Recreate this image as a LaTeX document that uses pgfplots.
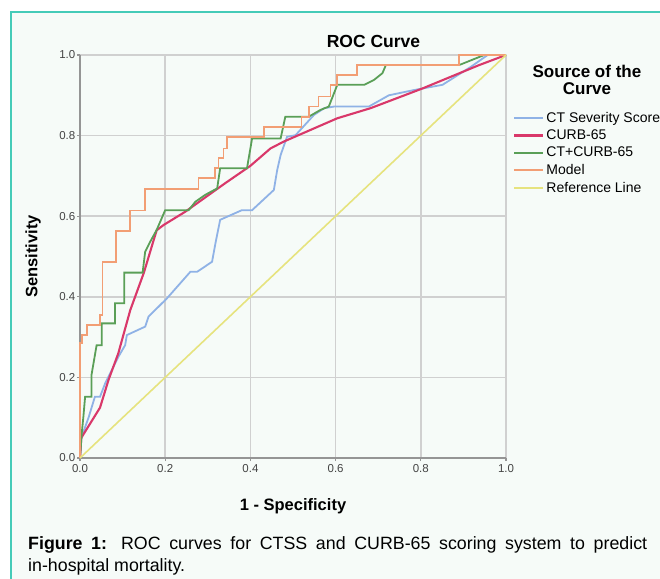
\documentclass[border=0pt]{standalone}
\usepackage{fontspec}
\setmainfont{Liberation Sans}
\usepackage{pgfplots}
\pgfplotsset{compat=1.18}
\definecolor{framecol}{HTML}{45CBB8}
\definecolor{panel}{HTML}{F6FBF8}
\definecolor{ctss}{HTML}{8FB2E6}
\definecolor{curbred}{HTML}{D9386A}
\definecolor{combo}{HTML}{5A9F57}
\definecolor{model}{HTML}{F29E74}
\definecolor{refline}{HTML}{E6E37E}
\definecolor{gridgray}{HTML}{D0D0D0}
\definecolor{axisgray}{HTML}{959595}
\definecolor{tickgray}{HTML}{444444}
\newcommand\tk{\fontsize{11.5}{13}\selectfont}

\begin{document}
\begin{tikzpicture}[x=1pt,y=1pt]
\useasboundingbox (0,0) rectangle (660,578);
\fill[panel] (11,-10) rectangle (670,566);
\draw[framecol, line width=1.3pt] (11,-10) -- (11,566) -- (670,566);

\begin{axis}[
  at={(80pt,120pt)}, anchor=south west,
  width=426pt, height=403pt, scale only axis,
  xmin=0, xmax=1, ymin=0, ymax=1,
  axis x line*=bottom, axis y line*=left,
  axis line style={-, color=axisgray, line width=2pt},
  xtick={0,0.2,0.4,0.6,0.8,1}, ytick={0,0.2,0.4,0.6,0.8,1},
  xticklabels={{\tk 0.0},{\tk 0.2},{\tk 0.4},{\tk 0.6},{\tk 0.8},{\tk 1.0}},
  yticklabels={{\tk 0.0},{\tk 0.2},{\tk 0.4},{\tk 0.6},{\tk 0.8},{\tk 1.0}},
  grid=major, grid style={color=gridgray, line width=1.5pt},
  tick style={color=axisgray, line width=1.2pt},
  major tick length=3pt, tick align=outside,
  tick label style={text=tickgray},
  yticklabel style={inner sep=1.5pt},
  xticklabel style={inner sep=3pt},
  title={ROC Curve},
  title style={at={(axis description cs:0.689,1.0025)}, anchor=base,
    font=\bfseries\fontsize{17.5}{20}\selectfont},
  xlabel={1 - Specificity},
  xlabel style={at={(axis description cs:0.5,-0.1315)}, anchor=base,
    font=\bfseries\fontsize{16.5}{18}\selectfont},
  ylabel={Sensitivity},
  ylabel style={at={(axis description cs:-0.11,0.5)}, anchor=center,
    font=\bfseries\fontsize{16.5}{18}\selectfont},
  clip=false,
  legend cell align=left,
  legend image code/.code={\draw[#1] (0pt,0pt) -- (29pt,0pt);},
  legend style={at={(axis description cs:1.0164,0.8636)}, anchor=north west,
    draw=none, fill=none, inner sep=0pt, row sep=2pt,
    font=\fontsize{14}{16}\selectfont},
]
\addlegendimage{draw=ctss, line width=2.3pt}
\addlegendentry{CT Severity Score}
\addlegendimage{draw=curbred, line width=2.3pt}
\addlegendentry{CURB-65}
\addlegendimage{draw=combo, line width=2.3pt}
\addlegendentry{CT+CURB-65}
\addlegendimage{draw=model, line width=2.3pt}
\addlegendentry{Model}
\addlegendimage{draw=refline, line width=2.3pt}
\addlegendentry{Reference Line}

% CT Severity Score
\addplot[forget plot, color=ctss, line width=1.8pt] coordinates {
  (0,0) (0.003,0.05) (0.02,0.1) (0.035,0.152) (0.047,0.152) (0.059,0.185)
  (0.09,0.251) (0.106,0.28) (0.11,0.305) (0.153,0.326) (0.161,0.351)
  (0.204,0.396) (0.259,0.462) (0.275,0.462) (0.31,0.487) (0.318,0.533)
  (0.329,0.591) (0.38,0.615) (0.404,0.615) (0.455,0.665) (0.463,0.715)
  (0.471,0.752) (0.486,0.797) (0.506,0.801) (0.549,0.851) (0.573,0.868)
  (0.596,0.872) (0.678,0.872) (0.725,0.9) (0.784,0.913) (0.851,0.926)
  (0.918,0.971) (0.957,1.0) (1,1)};
% CURB-65
\addplot[forget plot, color=curbred, line width=2.1pt] coordinates {
  (0,0) (0.003,0.05) (0.047,0.125) (0.067,0.194) (0.09,0.26) (0.118,0.367)
  (0.15,0.46) (0.173,0.541) (0.18,0.565) (0.196,0.578) (0.247,0.611)
  (0.341,0.682) (0.4,0.725) (0.447,0.768) (0.478,0.785) (0.604,0.843)
  (0.682,0.868) (0.804,0.917) (0.937,0.975) (1,1)};
% CT+CURB-65
\addplot[forget plot, color=combo, line width=1.8pt] coordinates {
  (0,0) (0.004,0.06) (0.008,0.103) (0.012,0.152) (0.027,0.152) (0.027,0.206)
  (0.039,0.28) (0.051,0.28) (0.051,0.334) (0.082,0.334) (0.082,0.384)
  (0.104,0.384) (0.104,0.46) (0.147,0.46) (0.153,0.512) (0.165,0.537)
  (0.18,0.566) (0.2,0.615) (0.255,0.615) (0.271,0.636) (0.294,0.653)
  (0.322,0.669) (0.329,0.719) (0.392,0.719) (0.404,0.793) (0.471,0.793)
  (0.482,0.847) (0.537,0.847) (0.565,0.864) (0.584,0.872) (0.604,0.926)
  (0.667,0.926) (0.69,0.938) (0.71,0.955) (0.718,0.975) (0.89,0.975)
  (0.949,1.0) (1,1)};
% Model
\addplot[forget plot, color=model, line width=1.8pt] coordinates {
  (0,0) (0,0.285) (0.005,0.285) (0.005,0.305) (0.016,0.305) (0.016,0.33)
  (0.047,0.33) (0.047,0.355) (0.053,0.355) (0.053,0.487) (0.084,0.487)
  (0.084,0.564) (0.118,0.564) (0.118,0.614) (0.153,0.614) (0.153,0.667)
  (0.278,0.667) (0.278,0.694) (0.316,0.694) (0.316,0.719) (0.325,0.719)
  (0.325,0.744) (0.337,0.744) (0.337,0.768) (0.345,0.768) (0.345,0.797)
  (0.431,0.797) (0.431,0.822) (0.52,0.822) (0.52,0.847) (0.537,0.847)
  (0.537,0.872) (0.56,0.872) (0.56,0.897) (0.588,0.897) (0.588,0.926)
  (0.604,0.926) (0.604,0.95) (0.651,0.95) (0.651,0.975) (0.89,0.975)
  (0.89,1) (1,1)};
% Reference Line
\addplot[forget plot, color=refline, line width=1.6pt] coordinates {(0,0) (1,1)};

\node[anchor=base, font=\bfseries\fontsize{17}{19}\selectfont]
  at (axis description cs:1.19,0.943) {Source of the};
\node[anchor=base, font=\bfseries\fontsize{17}{19}\selectfont]
  at (axis description cs:1.19,0.9032) {Curve};
\end{axis}

\node[anchor=base west, inner sep=0pt, font=\fontsize{17.8}{20}\selectfont]
  at (28,29) {\makebox[619pt][s]{\textbf{Figure 1:} ROC curves for CTSS and CURB-65 scoring system to predict}};
\node[anchor=base west, inner sep=0pt, font=\fontsize{17.8}{20}\selectfont]
  at (28,7) {in-hospital mortality.};
\end{tikzpicture}
\end{document}
